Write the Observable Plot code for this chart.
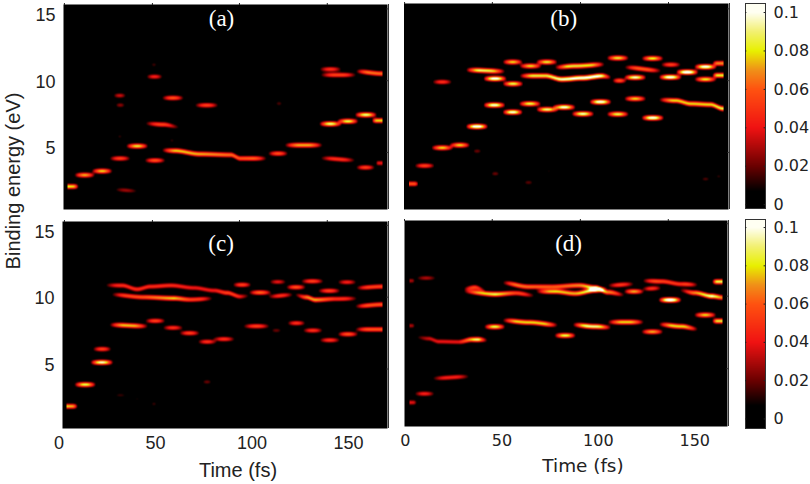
<!DOCTYPE html>
<html>
<head>
<meta charset="utf-8">
<script src="https://cdn.jsdelivr.net/npm/d3@7"></script>
<script src="https://cdn.jsdelivr.net/npm/@observablehq/plot@0.6"></script>
<style>
	html, body {margin: 0; padding: 0; background: white;}
	#page {position: relative; width: 810px; height: 484px; overflow: hidden;}
	#page svg {position: absolute; background: transparent;}
	#page svg image {filter: blur(0.6px);}
	.label {position: absolute; font-family: "Liberation Sans", sans-serif; color: #222; white-space: nowrap;}
</style>
</head>
<body>
<div id="page"></div>
<script>
// data: every ridge is a list of [time fs, binding energy eV, intensity]
const ridgesA = [
	[[4.2, 2.14, .085], [10.3, 2.14, .075]],
	[[7.7, 3.0, .075], [18.9, 3.0, .075]],
	[[16.7, 3.3, .08], [28, 3.3, .08]],
	[[25.8, 4.25, .055], [37.4, 4.25, .055]],
	[[28.4, 1.9, .03], [41.4, 1.8, .025]],
	[[27.9, 8.98, .035], [35, 8.98, .035]],
	[[29, 8.26, .025], [34.5, 8.26, .025]],
	[[34.5, 5.18, .085], [46.5, 5.18, .085]],
	[[44, 4.1, .06], [55.5, 4.1, .06]],
	[[44.3, 6.88, .055], [54, 6.8, .055], [63, 6.6, .035]],
	[[45, 10.4, .045], [54, 10.4, .045]],
	[[47.4, 11.3, .014], [51, 11.3, .014]],
	[[53, 8.8, .06], [65, 8.8, .06]],
	[[70, 8.25, .055], [83, 8.25, .055]],
	[[53, 4.87, .085], [60, 4.83, .08], [73, 4.58, .075], [89, 4.52, .065], [94, 4.25, .06], [108, 4.25, .07]],
	[[108, 4.62, .06], [119, 4.62, .06]],
	[[116.5, 5.25, .075], [137, 5.25, .075]],
	[[112, 8.38, .016], [116, 8.38, .016]],
	[[134.6, 10.96, .05], [146.7, 10.96, .05]],
	[[135, 10.53, .055], [154.5, 10.53, .055]],
	[[153.6, 10.8, .07], [167.4, 10.63, .065]],
	[[134.6, 6.85, .095], [146.7, 6.85, .095]],
	[[144, 7.05, .09], [155.4, 7.05, .09]],
	[[153, 7.53, .095], [165, 7.53, .095]],
	[[162, 7.1, .08], [167.4, 7.1, .08]],
	[[135, 4.27, .05], [154, 4.12, .05]],
	[[153.6, 3.57, .055], [164, 3.57, .055]],
	[[164, 3.9, .04], [167.4, 3.9, .04]],
	[[57, 5.6, .012], [60, 5.6, .012]],
	[[30, 5.9, .012], [33, 5.9, .012]]
];
const ridgesB = [
	[[1.7, 2.34, .06], [6.9, 2.34, .06]],
	[[4.3, 3.7, .055], [15.5, 3.7, .055]],
	[[13.5, 10, .05], [24.5, 10, .05]],
	[[13, 5.05, .08], [25, 5.05, .08]],
	[[22.5, 5.25, .08], [33.7, 5.25, .08]],
	[[34.5, 4.8, .02], [39.7, 4.8, .02]],
	[[31, 6.65, .115], [43, 6.65, .115]],
	[[31, 10.9, .1], [52, 10.8, .08]],
	[[40, 10.25, .11], [52.7, 10.25, .11]],
	[[50, 9.86, .09], [61.3, 9.86, .09]],
	[[40, 8.26, .105], [52, 8.26, .105]],
	[[50, 7.73, .105], [61, 7.73, .105]],
	[[50, 11.5, .08], [61, 11.5, .08]],
	[[58.7, 11.2, .08], [70.8, 11.2, .08]],
	[[67.4, 11.5, .085], [79, 11.5, .085]],
	[[58.7, 10.46, .09], [72.5, 10.46, .085], [81, 10.2, .1], [91.5, 10.3, .11], [102, 10.45, .11], [107, 10.35, .09]],
	[[107, 10.1, .06], [114.8, 10.1, .06]],
	[[113, 10.34, .1], [125, 10.34, .1]],
	[[77, 11.1, .085], [88, 11.2, .085], [103.6, 11.32, .08]],
	[[58.4, 8.36, .09], [70.5, 8.36, .09]],
	[[67.4, 7.93, .095], [79.4, 7.93, .095]],
	[[76, 8.1, .105], [88.4, 8.1, .105]],
	[[85.8, 7.6, .1], [98, 7.6, .1]],
	[[95, 8.5, .11], [107, 8.5, .11]],
	[[104, 7.58, .09], [116, 7.58, .09]],
	[[113, 8.74, .08], [125, 8.74, .08]],
	[[122, 7.3, .11], [134.2, 7.3, .11]],
	[[104, 11.8, .085], [116, 11.8, .085]],
	[[122, 11.77, .085], [134, 11.77, .085]],
	[[113, 11.1, .065], [133, 10.85, .06]],
	[[132, 11.3, .055], [143, 11.3, .055]],
	[[131, 10.36, .11], [143.4, 10.36, .11]],
	[[140, 10.74, .12], [152, 10.74, .12]],
	[[149.4, 11.14, .11], [161.5, 11.14, .11]],
	[[149.4, 10.2, .085], [161.5, 10.2, .085]],
	[[159, 11.4, .07], [164.6, 11.4, .07]],
	[[159, 10.5, .085], [164.6, 10.5, .085]],
	[[131, 8.66, .08], [140, 8.6, .08], [148, 8.36, .08], [158, 8.3, .08], [164.6, 8.0, .09]],
	[[44, 3.1, .02], [49, 3.1, .02]],
	[[61, 2.44, .018], [66.5, 2.44, .018]],
	[[153, 2.7, .016], [158, 2.7, .016]],
	[[160.6, 2.9, .012], [164, 2.9, .012]],
	[[72.5, 3.3, .009], [76, 3.3, .009]]
];
const ridgesC = [
	[[3.9, 1.9, .08], [9.8, 1.9, .07]],
	[[7.7, 3.53, .09], [19.4, 3.53, .09]],
	[[16, 5.2, .1], [28.4, 5.2, .1]],
	[[17.2, 6.2, .055], [27.5, 6.2, .055]],
	[[25.8, 8.02, .08], [46.5, 7.92, .075]],
	[[44.3, 8.32, .055], [55.5, 8.32, .055]],
	[[53.4, 7.8, .05], [64.7, 7.8, .05]],
	[[62, 7.4, .055], [73.3, 7.4, .055]],
	[[71.6, 6.75, .05], [82, 6.75, .05]],
	[[79.4, 6.95, .05], [91.5, 6.95, .05]],
	[[95, 7.92, .055], [109.6, 7.92, .055]],
	[[109.6, 7.6, .02], [115.6, 7.6, .02]],
	[[118, 8.15, .05], [128, 8.15, .05]],
	[[126, 7.6, .05], [137, 7.6, .05]],
	[[134.6, 6.87, .05], [146, 6.87, .05]],
	[[144, 7.32, .06], [155.4, 7.32, .06]],
	[[153, 7.68, .06], [167.8, 7.68, .06]],
	[[23.6, 11, .048], [32.7, 10.98, .048], [40.5, 10.7, .048], [47.4, 10.9, .048], [58, 10.98, .048], [70, 10.8, .042], [80.4, 10.6, .042], [87, 10.43, .055], [94, 10.15, .05], [99, 10.2, .045]],
	[[26.7, 10.3, .05], [44, 10.1, .06], [59.5, 10.02, .08], [68, 9.92, .055], [80.2, 10, .05]],
	[[98, 10.45, .065], [110.4, 10.45, .065]],
	[[89.7, 11.03, .055], [100, 11.03, .055]],
	[[108, 10.15, .05], [121.7, 10.28, .05]],
	[[121.7, 10.28, .05], [128, 10.1, .07], [133, 9.9, .075], [143, 9.97, .05], [155, 10, .05]],
	[[108.7, 11.25, .04], [118, 11.25, .04]],
	[[117.4, 10.85, .06], [128.2, 10.85, .06]],
	[[125, 11.3, .055], [137.5, 11.3, .055]],
	[[133.8, 10.58, .055], [146.2, 10.58, .055]],
	[[144, 11.23, .045], [154.5, 11.23, .045]],
	[[153.6, 10.8, .055], [167.8, 10.9, .055]],
	[[153, 9.42, .06], [167.8, 9.55, .06]],
	[[28.4, 2.73, .013], [35.3, 2.73, .013]],
	[[38.8, 2.45, .009], [42.2, 2.45, .009]],
	[[47.4, 2.08, .013], [51, 2.08, .013]],
	[[74, 3.73, .02], [79.4, 3.73, .02]],
	[[66.4, 3.4, .007], [69, 3.4, .007]]
];
const ridgesD = [
	[[2, 2.18, .04], [6, 2.18, .035]],
	[[4.3, 2.83, .045], [15.5, 2.83, .045]],
	[[13.5, 3.98, .045], [33.7, 4.11, .045]],
	[[5.2, 7.04, .035], [12, 6.94, .035], [17.3, 6.72, .04], [27.6, 6.69, .04], [34.5, 6.87, .08], [38, 6.87, .11], [43, 6.82, .07]],
	[[2, 7.9, .03], [5, 7.9, .025]],
	[[2, 11.25, .03], [5, 11.25, .025]],
	[[5.2, 11.45, .03], [16.4, 11.45, .03]],
	[[40.6, 7.82, .09], [52, 7.82, .09]],
	[[50, 8.3, .08], [64, 8.15, .08], [79.4, 7.95, .08]],
	[[77, 7.17, .09], [88.6, 7.17, .09]],
	[[86.4, 7.97, .095], [98, 7.84, .095], [107, 7.77, .09]],
	[[104.5, 8.17, .08], [124, 8.17, .08]],
	[[122, 7.45, .075], [134, 7.45, .075]],
	[[131, 8, .085], [143, 7.85, .08], [152, 7.65, .08]],
	[[149.4, 8.7, .08], [161.5, 8.7, .08]],
	[[159, 8.25, .085], [164.6, 8.25, .085]],
	[[50, 11.1, .07], [64, 10.8, .065], [76, 10.8, .06], [90, 10.9, .07], [98.5, 10.73, .09], [105, 10.4, .07], [114, 10.2, .06]],
	[[30, 10.65, .055], [36, 10.75, .055], [41.5, 10.55, .05]],
	[[30, 10.45, .06], [46.6, 10.25, .09], [57, 10.33, .055], [67.4, 10.15, .05]],
	[[67.4, 10.45, .07], [77.7, 10.45, .08], [88, 10.3, .075], [98.5, 10.55, .1], [105, 10.65, .06]],
	[[104.5, 10.9, .055], [119, 11, .05]],
	[[113, 10.45, .075], [124, 10.45, .075]],
	[[122.6, 10.65, .05], [133, 10.7, .05]],
	[[122.6, 11.25, .07], [133, 11.2, .055], [143, 11, .05], [152, 10.95, .075]],
	[[141.6, 10.55, .045], [150, 10.35, .07], [159, 10.1, .1], [164.6, 10, .065]],
	[[131, 9.82, .12], [143.4, 9.82, .12]],
	[[159, 11.18, .09], [164.6, 11.18, .09]]
];

const timeTicks = [0, 50, 100, 150];
const energyTicks = [5, 10, 15];
const barTicks = [0, 0.02, 0.04, 0.06, 0.08, 0.1];
const colorStops = [0, 0.007, 0.02, 0.04, 0.06, 0.07, 0.08, 0.09, 0.1];
const colorRange = ['#000000', '#000000', '#6a0000', '#f01212', '#ff5210', '#f09018', '#e8f000', '#f2f070', '#fffff2'];

// the tick marks on the top and right edges do not line up with the labels in the original
const topTicksAC = [2.8, 48.4, 93.5, 139];
const topTicksBD = [-0.5, 45, 90.7, 136.3];
const rightTicks = [4.7, 10.1, 15.5];

const page = document.querySelector('#page');

// panels
addPanel(ridgesA, {name: '(a)', at: [0, 0, 395, 214], frame: [63, 387, 4, 209], x: [2.33, 170.2], y: [0.41, 15.83],
	tMin: 4.2, tMax: 167.4, labelAt: [84.2, 14.8], topTicks: topTicksAC, yAxis: true});
addPanel(ridgesB, {name: '(b)', at: [395, 0, 345, 214], frame: [403.5, 728, 3, 209], x: [-0.8, 167.4], y: [0.41, 15.9],
	tMin: 1.7, tMax: 164.6, labelAt: [82, 14.8], topTicks: topTicksBD});
addPanel(ridgesC, {name: '(c)', at: [0, 214, 395, 270], frame: [62, 387, 221, 428], x: [1.8, 170.2], y: [0.23, 15.79],
	tMin: 3.9, tMax: 167.8, labelAt: [84, 14.1], topTicks: topTicksAC, yAxis: true, xAxis: true, tickFont: '"Liberation Sans"', tickSize: 18});
addPanel(ridgesD, {name: '(d)', at: [395, 214, 345, 270], frame: [404, 727, 220, 426], x: [-0.5, 167], y: [0.39, 15.74],
	tMin: 2, tMax: 164.6, labelAt: [84.6, 14], topTicks: topTicksBD, xAxis: true, tickFont: '"DejaVu Sans"', tickSize: 16});

addColorbar({at: [740, 0, 70, 214], frame: [745, 765, 3, 208], y: [-0.002, 0.1047]});
addColorbar({at: [740, 214, 70, 270], frame: [745, 765, 219, 428], y: [-0.005, 0.1042]});

addLabel('Binding energy (eV)', 13, 181, 20, '"Liberation Sans"', 'rotate(-90deg)');
addLabel('Time (fs)', 238, 470, 20, '"Liberation Sans"');
addLabel('Time (fs)', 583, 465, 18.4, '"DejaVu Sans"');


// helpers
function intensityAt(ridges, t, e, tMin, tMax) {
	if (t < tMin || t > tMax) return 0;
	const sigma = 0.125;
	let value = 0;
	for (const ridge of ridges) {
		const start = ridge[0][0];
		const end = ridge[ridge.length - 1][0];
		if (t < start - 0.01 && start > tMin || t > end + 0.01 && end < tMax) continue;
		let k = 0;
		while (k < ridge.length - 2 && t > ridge[k + 1][0]) k++;
		const [t0, e0, a0] = ridge[k];
		const [t1, e1, a1] = ridge[k + 1];
		const f = Math.max(0, Math.min(1, (t - t0) / (t1 - t0)));
		const centre = e0 + (e1 - e0) * f * f * (3 - 2 * f);
		// the ends fade out unless the ridge runs off the edge of the panel
		const tau = Math.min(8, (end - start) / 2);
		const fromStart = start <= tMin ? tau : t - start;
		const fromEnd = end >= tMax ? tau : end - t;
		const fade = Math.sin(Math.PI / 2 * Math.min(1, Math.max(0, Math.min(fromStart, fromEnd) / tau)));
		const d = (e - centre) / sigma;
		value += (a0 + (a1 - a0) * f) * fade * Math.exp(-d * d / 2);
	}
	return value;
}

function colorScale() {
	return {type: 'linear', domain: colorStops, range: colorRange, clamp: true, interpolate: 'rgb'};
}

function addPanel(ridges, o) {
	const [ox, oy, w, h] = o.at;
	const [fl, fr, ft, fb] = o.frame;
	const marks = [
		Plot.raster({
			x1: o.x[0], x2: o.x[1], y1: o.y[0], y2: o.y[1], pixelSize: 1,
			fill: (t, e) => intensityAt(ridges, t, e, o.tMin, o.tMax)
		}),
		Plot.text([o.name], {
			x: () => o.labelAt[0], y: () => o.labelAt[1], text: d => d,
			fill: 'white', fontFamily: '"Liberation Serif", serif', fontSize: 23
		}),
		Plot.axisX({anchor: 'top', ticks: o.topTicks, tickSize: 2, tickFormat: () => '', stroke: '#222', label: null}),
		Plot.ruleX([o.x[1]], {dx: 1, stroke: '#333', strokeWidth: 1}),
		Plot.ruleY(rightTicks, {x1: () => o.x[1] - 0.3, x2: () => o.x[1] + 0.8, stroke: '#333'})
	];
	if (o.yAxis) {
		marks.push(Plot.axisY({ticks: energyTicks, tickSize: 0, tickPadding: 8, label: null,
			fontSize: 18, fill: '#222', fontFamily: '"Liberation Sans"'}));
	}
	if (o.xAxis) {
		marks.push(Plot.axisX({ticks: timeTicks, tickSize: 0, tickPadding: 8, label: null,
			fontSize: o.tickSize, fill: '#222', fontFamily: o.tickFont}));
	}
	const fig = Plot.plot({
		width: w, height: h,
		marginLeft: fl - ox, marginRight: ox + w - fr, marginTop: ft - oy, marginBottom: oy + h - fb,
		x: {domain: o.x, axis: null},
		y: {domain: o.y, axis: null},
		color: colorScale(),
		marks
	});
	fig.style.left = `${ox}px`;
	fig.style.top = `${oy}px`;
	page.append(fig);
}

function addColorbar(o) {
	const [ox, oy, w, h] = o.at;
	const [fl, fr, ft, fb] = o.frame;
	const fig = Plot.plot({
		width: w, height: h,
		marginLeft: fl - ox, marginRight: ox + w - fr, marginTop: ft - oy, marginBottom: oy + h - fb,
		x: {domain: [0, 1], axis: null},
		y: {domain: o.y, axis: null},
		color: colorScale(),
		marks: [
			Plot.raster({x1: 0, x2: 1, y1: o.y[0], y2: o.y[1], pixelSize: 1, fill: (x, y) => y}),
			Plot.frame({stroke: '#333'}),
			Plot.ruleY(barTicks, {x1: 0, x2: 0.07, stroke: '#222'}),
			Plot.ruleY(barTicks, {x1: 0.93, x2: 1, stroke: '#222'}),
			Plot.axisY({anchor: 'right', ticks: barTicks, tickSize: 0, tickPadding: 8, label: null, tickFormat: d => String(d),
				fontSize: 16, fill: '#222', fontFamily: '"DejaVu Sans"'})
		]
	});
	fig.style.left = `${ox}px`;
	fig.style.top = `${oy}px`;
	page.append(fig);
}

function addLabel(text, cx, cy, size, family, transform = '') {
	const div = document.createElement('div');
	div.className = 'label';
	div.textContent = text;
	div.style.left = `${cx}px`;
	div.style.top = `${cy}px`;
	div.style.fontSize = `${size}px`;
	div.style.fontFamily = family;
	div.style.transform = `translate(-50%, -50%) ${transform}`;
	page.append(div);
}
</script>
</body>
</html>
